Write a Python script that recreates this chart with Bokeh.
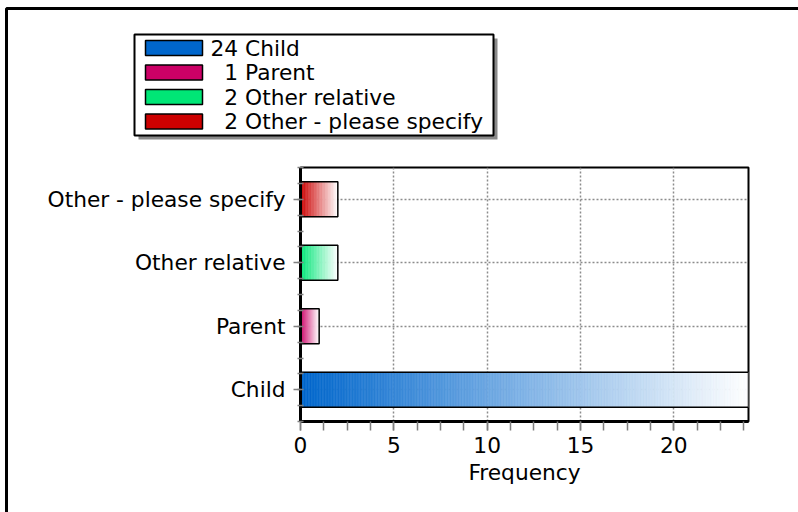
from bokeh.plotting import figure
from bokeh.models import ColumnDataSource, Range1d, FixedTicker
from bokeh.core.properties import value
from bokeh.embed import file_html
from bokeh.resources import INLINE

# --- data -------------------------------------------------------------
categories = ["Child", "Parent", "Other relative", "Other - please specify"]
counts = [24, 1, 2, 2]
bar_colors = ["#0066CC", "#CC0066", "#00E676", "#CC0000"]
x_ticks = [0, 5, 10, 15, 20]
x_minor_ticks = [1.25 * k for k in range(20)]

W, H = 798, 512
FRAME_L, FRAME_R, FRAME_T, FRAME_B = 300, 748, 167, 421
FONT = "DejaVu Sans"
FSIZE = "16.3pt"
BAR_H = 0.55

y_pos = list(range(1, len(categories) + 1))


def fade(hex_color, t):
    """Blend a colour towards white by fraction t."""
    r, g, b = (int(hex_color[i:i + 2], 16) for i in (1, 3, 5))
    r, g, b = (round(c + (255 - c) * t) for c in (r, g, b))
    return "#%02x%02x%02x" % (r, g, b)


# horizontal gradient: each bar is cut into thin slices fading to white
ys, lefts, rights, cols = [], [], [], []
for y, v, c in zip(y_pos, counts, bar_colors):
    steps = max(24, int(v * 12))
    for i in range(steps):
        ys.append(y)
        lefts.append(v * i / steps)
        rights.append(v * (i + 1) / steps)
        cols.append(fade(c, (i + 0.5) / steps))
slices = ColumnDataSource(dict(y=ys, left=lefts, right=rights, color=cols))
bars = ColumnDataSource(dict(y=y_pos, right=counts))

p = figure(width=W, height=H, output_backend="svg", toolbar_location=None,
           x_range=Range1d(0, 24), y_range=Range1d(0.5, 4.5),
           min_border_left=FRAME_L, min_border_right=W - FRAME_R,
           min_border_top=FRAME_T, min_border_bottom=H - FRAME_B)
p.background_fill_color = "white"
p.border_fill_color = "white"
p.outline_line_color = "black"
p.outline_line_width = 2

p.hbar(y="y", left="left", right="right", height=BAR_H, source=slices,
       fill_color="color", line_color="color", line_width=0.6)
p.hbar(y="y", left=0, right="right", height=BAR_H, source=bars,
       fill_color=None, line_color="black", line_width=1.5)

# --- axes -------------------------------------------------------------
xt = FixedTicker(ticks=x_ticks, minor_ticks=x_minor_ticks)
yt = FixedTicker(ticks=y_pos, minor_ticks=[0.5 + 0.25 * k for k in range(17)])
p.xaxis.ticker = xt
p.yaxis.ticker = yt
p.xgrid.ticker = xt
p.ygrid.ticker = yt
p.yaxis.major_label_overrides = {y: c for y, c in zip(y_pos, categories)}

for ax in (p.xaxis, p.yaxis):
    ax.axis_line_color = "black"
    ax.axis_line_width = 3
    ax.major_tick_line_color = "#808080"
    ax.minor_tick_line_color = "#808080"
    ax.major_tick_line_width = 1.5
    ax.minor_tick_line_width = 1.5
    ax.major_label_text_font = FONT
    ax.major_label_text_font_size = FSIZE
    ax.major_label_text_color = "black"

p.xaxis.major_tick_in = 0
p.xaxis.major_tick_out = 9
p.xaxis.minor_tick_in = 0
p.xaxis.minor_tick_out = 9
p.xaxis.major_label_standoff = 6
p.xaxis.axis_label = "Frequency"
p.xaxis.axis_label_text_font = FONT
p.xaxis.axis_label_text_font_size = FSIZE
p.xaxis.axis_label_text_font_style = "normal"
p.xaxis.axis_label_text_color = "black"
p.xaxis.axis_label_standoff = 4

p.yaxis.major_tick_in = 0
p.yaxis.major_tick_out = 7
p.yaxis.minor_tick_in = 3
p.yaxis.minor_tick_out = 3
p.yaxis.major_label_standoff = 8

for g in (p.xgrid, p.ygrid):
    g.grid_line_color = "#8c8c8c"
    g.grid_line_dash = "2 2"
    g.grid_line_width = 1.5

# --- page frame and legend, drawn in pixel coordinates ----------------
# a pixel-space range pair: values equal canvas pixels (y grows downward)
p.extra_x_ranges = {"px": Range1d(FRAME_L, FRAME_R)}
p.extra_y_ranges = {"px": Range1d(FRAME_B, FRAME_T)}
px = dict(x_range_name="px", y_range_name="px", level="overlay")

# outer page border (only the left and top edges fall inside the canvas)
p.quad(left=[6], right=[W + 60], top=[8], bottom=[H + 60],
       fill_color=None, line_color="black", line_width=3, **px)

LX0, LX1, LY0, LY1 = 134, 493, 34, 135
p.quad(left=[LX0 + 4], right=[LX1 + 4], top=[LY0 + 4], bottom=[LY1 + 4],
       fill_color="#8a8a8a", line_color=None, **px)
p.quad(left=[LX0], right=[LX1], top=[LY0], bottom=[LY1],
       fill_color="white", line_color="black", line_width=2, **px)

ROW0, ROW_STEP = 47.5, 24.5
row_y = [ROW0 + i * ROW_STEP for i in range(len(categories))]
legend_text = [f"{n:>2}".replace(" ", "\u2007") + f" {name}"
               for name, n in zip(categories, counts)]
p.quad(left=[145] * len(row_y), right=[202] * len(row_y),
       top=[y - 7.5 for y in row_y], bottom=[y + 7.5 for y in row_y],
       fill_color=bar_colors, line_color="black", line_width=1.5, **px)
p.text(x=[210] * len(row_y), y=row_y, text=legend_text,
       text_font=value(FONT), text_font_size=FSIZE, text_color="black",
       text_align="left", text_baseline="middle", **px)

open("out.html", "w").write(file_html(p, INLINE))
